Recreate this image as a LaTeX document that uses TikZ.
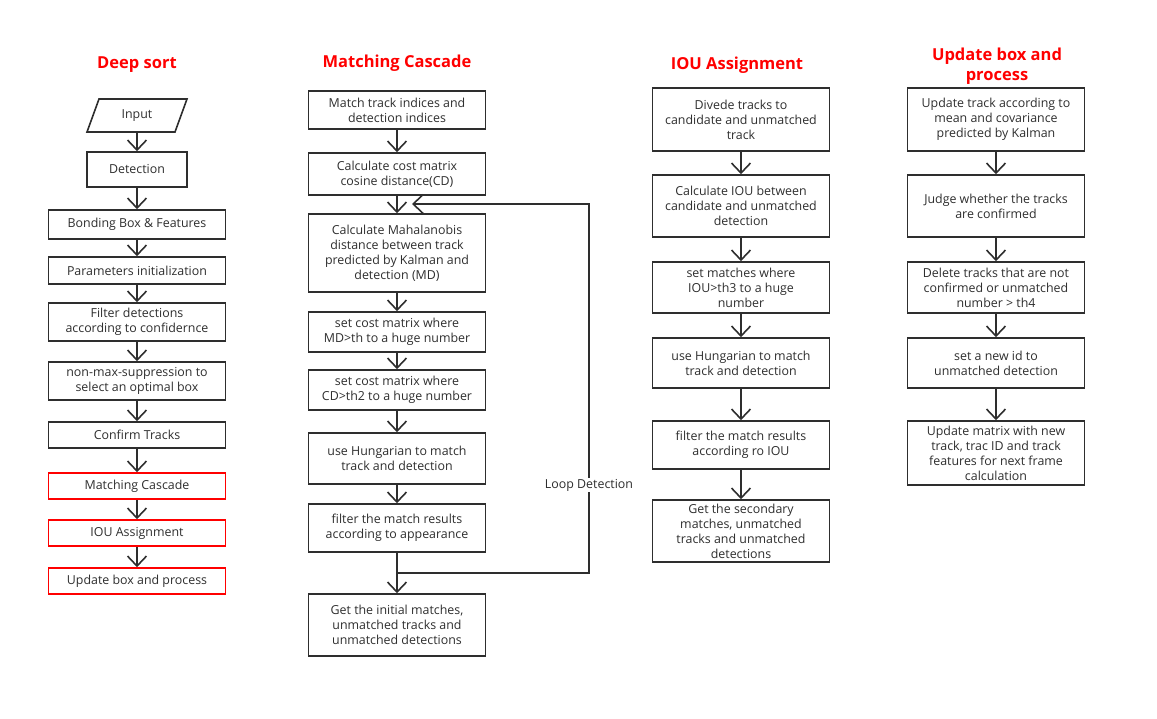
\documentclass[tikz,border=0pt]{standalone}
\usepackage{fontspec}
\setmainfont{Open Sans}
\usetikzlibrary{arrows.meta}
\definecolor{ink}{HTML}{2E2E2E}
\tikzset{
  box/.style={draw=ink, line width=1.6pt, text=ink, align=center, inner sep=2pt,
    font=\fontsize{12.4}{15}\selectfont, minimum width=177pt},
  redbox/.style={box, draw=red},
  ttl/.style={text=red, font=\fontsize{16.5}{20.5}\selectfont\bfseries, align=center},
  arr/.style={draw=ink, line width=1.6pt, -{Straight Barb[length=10pt,width=19pt,line width=1.6pt]}},
}
\begin{document}
\begin{tikzpicture}[x=1pt,y=-1pt]
\useasboundingbox (0,0) rectangle (1157,718);
% titles
\node[ttl] (t1) at (137,65) {Deep sort};
\node[ttl] (t2) at (397,63) {Matching Cascade};
\node[ttl] (t3) at (737,65) {IOU Assignment};
\node[ttl] (t4) at (997,66) {Update box and\\process};
% column 1
\draw[ink, line width=1.6pt] (99,99) -- (187,99) -- (175,132) -- (87,132) -- cycle;
\node[box, draw=none, minimum width=88pt, minimum height=33pt] (a0) at (137,115.5) {Input};
\node[box, minimum width=100pt, minimum height=35pt] (a1) at (137,169.5) {Detection};
\node[box, minimum height=29pt] (a2) at (137,224.5) {Bonding Box \& Features};
\node[box, minimum height=27pt] (a3) at (137,270.5) {Parameters initialization};
\node[box, minimum height=38pt] (a4) at (137,322) {Filter detections\\according to confidernce};
\node[box, minimum height=38pt] (a5) at (137,381) {non-max-suppression to\\select an optimal box};
\node[box, minimum height=26pt] (a6) at (137,435) {Confirm Tracks};
\node[redbox, minimum height=26pt] (a7) at (137,486) {Matching Cascade};
\node[redbox, minimum height=26pt] (a8) at (137,533) {IOU Assignment};
\node[redbox, minimum height=26pt] (a9) at (137,581) {Update box and process};
\foreach \i/\j in {a0/a1,a1/a2,a2/a3,a3/a4,a4/a5,a5/a6,a6/a7,a7/a8,a8/a9}
  \draw[arr] (\i.south) -- (\j.north);
% column 2
\node[box, minimum height=38pt] (b1) at (397,110) {Match track indices and\\detection indices};
\node[box, minimum height=42pt] (b2) at (397,174) {Calculate cost matrix\\cosine distance(CD)};
\node[box, minimum height=78pt] (b3) at (397,253) {Calculate Mahalanobis\\distance between track\\predicted by Kalman and\\detection (MD)};
\node[box, minimum height=40pt] (b4) at (397,332) {set cost matrix where\\MD\textgreater th to a huge number};
\node[box, minimum height=40pt] (b5) at (397,390) {set cost matrix where\\CD\textgreater th2 to a huge number};
\node[box, minimum height=51pt] (b6) at (397,458.5) {use Hungarian to match\\track and detection};
\node[box, minimum height=48pt] (b7) at (397,528) {filter the match results\\according to appearance};
\node[box, minimum height=62pt] (b8) at (397,625) {Get the initial matches,\\unmatched tracks and\\unmatched detections};
\foreach \i/\j in {b1/b2,b2/b3,b3/b4,b4/b5,b5/b6,b6/b7,b7/b8}
  \draw[arr] (\i.south) -- (\j.north);
\coordinate (lB) at (589,573);
\coordinate (lD) at (412,204);
\draw[arr] (b7.south) |- (lB) |- (lD);
\node[text=ink, fill=white, inner sep=1pt, font=\fontsize{12.4}{15}\selectfont] (lbl) at (589,485) {Loop Detection};
% column 3
\node[box, minimum height=63pt] (c1) at (741,119.5) {Divede tracks to\\candidate and unmatched\\track};
\node[box, minimum height=62pt] (c2) at (741,206) {Calculate IOU between\\candidate and unmatched\\detection};
\node[box, minimum height=51pt] (c3) at (741,287.5) {set matches where\\IOU\textgreater th3 to a huge\\number};
\node[box, minimum height=50pt] (c4) at (741,363) {use Hungarian to match\\track and detection};
\node[box, minimum height=48pt] (c5) at (741,445) {filter the match results\\according ro IOU};
\node[box, minimum height=62pt] (c6) at (741,531) {Get the secondary\\matches, unmatched\\tracks and unmatched\\detections};
\foreach \i/\j in {c1/c2,c2/c3,c3/c4,c4/c5,c5/c6}
  \draw[arr] (\i.south) -- (\j.north);
% column 4
\node[box, minimum height=63pt] (d1) at (996,119.5) {Update track according to\\mean and covariance\\predicted by Kalman};
\node[box, minimum height=62pt] (d2) at (996,206) {Judge whether the tracks\\are confirmed};
\node[box, minimum height=51pt] (d3) at (996,287.5) {Delete tracks that are not\\confirmed or unmatched\\number \textgreater{} th4};
\node[box, minimum height=50pt] (d4) at (996,363) {set a new id to\\unmatched detection};
\node[box, minimum height=64pt] (d5) at (996,453) {Update matrix with new\\track, trac ID and track\\features for next frame\\calculation};
\foreach \i/\j in {d1/d2,d2/d3,d3/d4,d4/d5}
  \draw[arr] (\i.south) -- (\j.north);
\end{tikzpicture}
\end{document}
